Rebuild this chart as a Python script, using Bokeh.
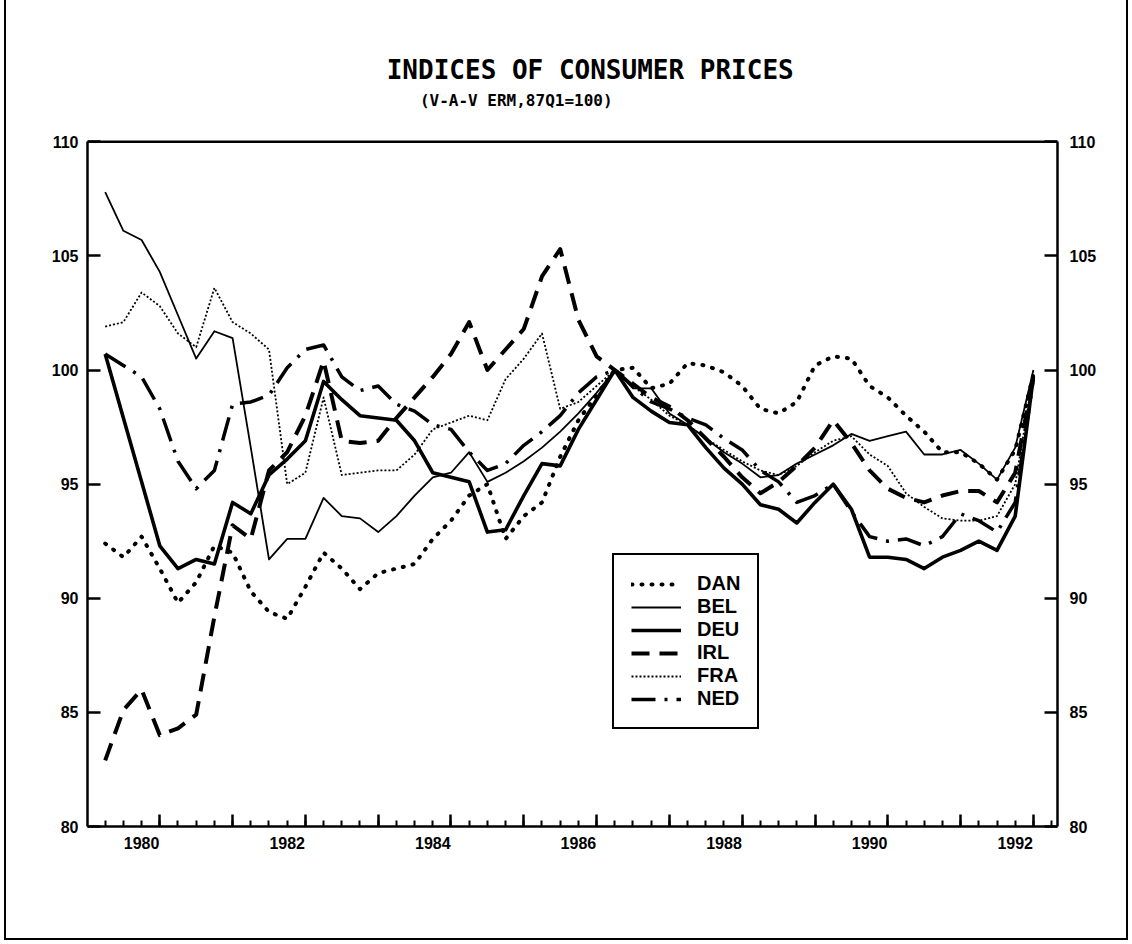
from bokeh.plotting import figure
from bokeh.models import Range1d, LinearAxis, FixedTicker, Legend, LegendItem, Label, Span
from bokeh.embed import file_html
from bokeh.resources import INLINE

# ---------------- data (quarterly, 1979Q2 .. 1992Q1) ----------------
quarters = [f"{1979 + (i + 1) // 4}Q{(i + 1) % 4 + 1}" for i in range(52)]

DAN = [92.4, 91.8, 92.7, 91.3, 89.8, 90.7, 92.3, 92.0, 90.3, 89.4,
       89.1, 90.5, 92.0, 91.3, 90.4, 91.1, 91.3, 91.5, 92.6, 93.4,
       94.5, 95.0, 92.6, 93.6, 94.2, 96.2, 97.8, 98.9, 100.0, 100.1,
       99.2, 99.4, 100.3, 100.2, 99.9, 99.3, 98.3, 98.1, 98.6, 100.2,
       100.6, 100.5, 99.3, 98.8, 98.0, 97.3, 96.4, 96.4, 95.9, 95.2,
       96.5, 99.8]
BEL = [107.8, 106.1, 105.7, 104.3, 102.4, 100.5, 101.7, 101.4, 96.6, 91.7,
       92.6, 92.6, 94.4, 93.6, 93.5, 92.9, 93.6, 94.5, 95.3, 95.5,
       96.4, 95.1, 95.5, 96.0, 96.6, 97.3, 98.1, 99.0, 100.0, 99.2,
       99.2, 98.1, 97.6, 97.0, 96.4, 95.9, 95.3, 95.4, 95.9, 96.3,
       96.7, 97.2, 96.9, 97.1, 97.3, 96.3, 96.3, 96.5, 95.9, 95.2,
       96.6, 100.0]
DEU = [100.7, 97.9, 95.1, 92.3, 91.3, 91.7, 91.5, 94.2, 93.7, 95.4,
       96.1, 96.9, 99.5, 98.7, 98.0, 97.9, 97.8, 96.9, 95.5, 95.3,
       95.1, 92.9, 93.0, 94.5, 95.9, 95.8, 97.4, 98.7, 100.0, 98.8,
       98.2, 97.7, 97.6, 96.6, 95.7, 95.0, 94.1, 93.9, 93.3, 94.2,
       95.0, 93.9, 91.8, 91.8, 91.7, 91.3, 91.8, 92.1, 92.5, 92.1,
       93.6, 99.7]
IRL = [82.9, 85.1, 86.0, 84.0, 84.3, 84.9, 89.2, 93.2, 92.6, 95.6,
       96.4, 98.0, 100.4, 96.9, 96.8, 96.9, 97.9, 98.8, 99.7, 100.7,
       102.1, 100.0, 100.9, 101.8, 104.1, 105.3, 102.2, 100.6, 100.0, 99.4,
       98.8, 98.4, 97.8, 97.0, 96.2, 95.3, 94.6, 95.1, 95.8, 96.6,
       97.8, 96.8, 95.6, 94.8, 94.4, 94.2, 94.5, 94.7, 94.7, 94.2,
       95.5, 99.7]
FRA = [101.9, 102.1, 103.4, 102.8, 101.6, 101.0, 103.6, 102.1, 101.6, 100.9,
       95.0, 95.5, 98.8, 95.4, 95.5, 95.6, 95.6, 96.3, 97.4, 97.7,
       98.0, 97.8, 99.6, 100.5, 101.6, 98.3, 98.6, 99.3, 100.0, 99.3,
       98.7, 98.0, 97.6, 97.0, 96.5, 96.0, 95.6, 95.4, 95.8, 96.4,
       96.9, 97.1, 96.3, 95.8, 94.6, 94.0, 93.5, 93.4, 93.4, 93.6,
       95.0, 99.8]
NED = [100.7, 100.2, 99.7, 98.3, 96.0, 94.8, 95.6, 98.5, 98.6, 98.9,
       100.1, 100.9, 101.1, 99.7, 99.1, 99.3, 98.5, 98.2, 97.6, 97.4,
       96.4, 95.6, 95.9, 96.7, 97.3, 98.0, 99.0, 99.7, 100.0, 99.3,
       98.6, 98.3, 97.9, 97.6, 97.0, 96.5, 95.6, 95.1, 94.2, 94.5,
       95.0, 93.8, 92.7, 92.5, 92.6, 92.3, 92.7, 93.7, 93.4, 92.9,
       94.2, 99.6]

series_names = ["DAN", "BEL", "DEU", "IRL", "FRA", "NED"]
series_values = [DAN, BEL, DEU, IRL, FRA, NED]

year_ticks = list(range(1980, 1993))
label_years = [1980, 1982, 1984, 1986, 1988, 1990, 1992]
y_ticks = [80, 85, 90, 95, 100, 105, 110]

TITLE = "INDICES OF CONSUMER PRICES"
SUBTITLE = "(V-A-V ERM,87Q1=100)"

# ---------------- helpers ----------------
def q_to_x(qs):
    return [int(s[:4]) + (int(s[5]) - 1) / 4 for s in qs]

xs = q_to_x(quarters)
LABEL_SHIFT = -0.25  # year labels sit a little left of the tall year ticks
X0, X1 = 1979.007, 1992.331
Y0, Y_AXIS_TOP, Y_TOP = 80, 110, 115.49   # headroom above 110 holds the titles

line_styles = {
    "DAN": dict(line_width=4, line_dash="1 9", line_cap="round"),
    "BEL": dict(line_width=1.8),
    "DEU": dict(line_width=3.6),
    "IRL": dict(line_width=4, line_dash="18 10"),
    "FRA": dict(line_width=1.8, line_dash="2 2"),
    "NED": dict(line_width=3.5, line_dash="24 9 3 9"),
}

p = figure(width=1124, height=940,
           x_range=Range1d(X0, X1), y_range=Range1d(Y0, Y_TOP),
           output_backend="svg", toolbar_location=None,
           x_axis_location=None, y_axis_location=None,
           min_border_left=81, min_border_right=73,
           min_border_top=16, min_border_bottom=114,
           title=None)
p.styles = {"border": "2px solid black", "border-top": "none",
            "margin": "0px 4px 4px 4px"}
p.grid.visible = False
p.background_fill_color = "white"
p.border_fill_color = "white"
p.outline_line_color = None

# top edge of the plotting box at 110
p.add_layout(Span(location=Y_AXIS_TOP, dimension="width",
                  line_color="black", line_width=2.5))

# titles
p.add_layout(Label(x=1983.117, y=113.16, text=TITLE, text_align="left",
                   text_baseline="middle", text_font="DejaVu Sans Mono",
                   text_font_size="26px", text_font_style="bold",
                   text_color="black"))
p.add_layout(Label(x=1983.573, y=111.80, text=SUBTITLE, text_align="left",
                   text_baseline="middle", text_font="DejaVu Sans Mono",
                   text_font_size="16px", text_font_style="bold",
                   text_color="black"))

# x axis: ticks (yearly tall, quarterly short), no labels
quarter_ticks = [1979 + i / 4 for i in range(0, 54)]
xa = LinearAxis(ticker=FixedTicker(ticks=year_ticks, minor_ticks=quarter_ticks),
                major_tick_in=12, major_tick_out=0,
                minor_tick_in=6, minor_tick_out=0,
                major_tick_line_width=2.5, minor_tick_line_width=2,
                axis_line_width=2.5, major_label_text_color=None,
                major_label_text_font_size="10px",
                major_label_standoff=0)
p.add_layout(xa, "below")
# x axis: labels
label_pos = [y + LABEL_SHIFT for y in label_years]
xl = LinearAxis(ticker=FixedTicker(ticks=label_pos, minor_ticks=[]),
                major_label_overrides={lp: str(y) for lp, y in zip(label_pos, label_years)},
                axis_line_color=None, major_tick_line_color=None,
                minor_tick_line_color=None, major_label_standoff=4,
                major_label_text_font="Liberation Sans",
                major_label_text_font_style="bold",
                major_label_text_color="black",
                major_label_text_font_size="16px")
p.add_layout(xl, "below")

for side in ("left", "right"):
    ya = LinearAxis(ticker=FixedTicker(ticks=y_ticks, minor_ticks=[]),
                    bounds=(Y0, Y_AXIS_TOP),
                    major_tick_in=13, major_tick_out=0,
                    minor_tick_line_color=None,
                    major_tick_line_width=2.5, axis_line_width=2.5,
                    major_label_standoff=9 if side == "left" else 12,
                    major_label_text_font="Liberation Sans",
                    major_label_text_font_style="bold",
                    major_label_text_color="black",
                    major_label_text_font_size="16px")
    p.add_layout(ya, side)

items = []
for name, vals in zip(series_names, series_values):
    r = p.line(xs, vals, line_color="black", line_join="round", **line_styles[name])
    items.append(LegendItem(label=name, renderers=[r]))

legend = Legend(items=items, location=(525, 97), orientation="vertical",
                glyph_width=50, glyph_height=22, label_height=22,
                spacing=0, padding=17, margin=0, label_standoff=16,
                label_text_font="Liberation Sans", label_text_font_style="bold",
                label_text_font_size="20px", label_text_color="black",
                border_line_color="black", border_line_width=2.5,
                border_line_alpha=1.0,
                background_fill_color="white", background_fill_alpha=1.0)
p.add_layout(legend)

open("out.html", "w").write(file_html(p, INLINE))
